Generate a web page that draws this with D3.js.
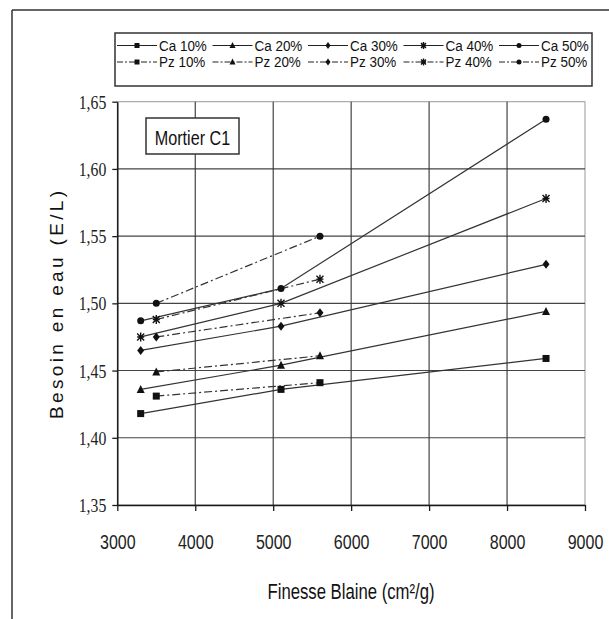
<!DOCTYPE html>
<html>
<head>
<meta charset="utf-8">
<script src="https://cdn.jsdelivr.net/npm/d3@7"></script>
<style>
  html, body { margin: 0; padding: 0; background: #fff; }
  svg { display: block; }
</style>
</head>
<body>
<svg id="chart" width="609" height="619"></svg>
<script>
// ---------- DATA ----------
const caX = [3300, 5100, 8500];
const pzX = [3500, 5600];
const seriesNames = ["10%", "20%", "30%", "40%", "50%"];
const markers = ["square", "triangle", "diamond", "star", "circle"];
const ca10 = [1.418, 1.436, 1.459];
const ca20 = [1.436, 1.454, 1.494];
const ca30 = [1.465, 1.483, 1.529];
const ca40 = [1.475, 1.500, 1.578];
const ca50 = [1.487, 1.511, 1.637];
const pz10 = [1.431, 1.441];
const pz20 = [1.449, 1.461];
const pz30 = [1.475, 1.493];
const pz40 = [1.488, 1.518];
const pz50 = [1.500, 1.550];
const xTicks = [3000, 4000, 5000, 6000, 7000, 8000, 9000];
const yTicks = [1.35, 1.40, 1.45, 1.50, 1.55, 1.60, 1.65];
const xTitle = "Finesse Blaine (cm²/g)";
const yTitle = "Besoin en eau (E/L)";
const annotation = "Mortier C1";

const caSeries = [ca10, ca20, ca30, ca40, ca50].map((v, i) => ({
  name: "Ca " + seriesNames[i], marker: markers[i], dashed: false,
  pts: caX.map((x, j) => [x, v[j]])
}));
const pzSeries = [pz10, pz20, pz30, pz40, pz50].map((v, i) => ({
  name: "Pz " + seriesNames[i], marker: markers[i], dashed: true,
  pts: pzX.map((x, j) => [x, v[j]])
}));

// ---------- LAYOUT ----------
const svg = d3.select("#chart");
const L = 117.3, R = 585, T = 101.7, B = 505;
const x = d3.scaleLinear().domain([3000, 9000]).range([L, R]);
const y = d3.scaleLinear().domain([1.35, 1.65]).range([B, T]);
const ink = "#1a1a1a";
const txt = "#111";
const DASH = "8,3,2,3";
const SANS = "'Liberation Sans', Arial, sans-serif";

// outer frame (top + left only visible)
svg.append("line").attr("x1", 12).attr("y1", 10).attr("x2", 609).attr("y2", 10)
  .attr("stroke", "#333").attr("stroke-width", 1.5);
svg.append("line").attr("x1", 12).attr("y1", 10).attr("x2", 12).attr("y2", 619)
  .attr("stroke", "#333").attr("stroke-width", 1.5);

// plot border (top/right light)
svg.append("rect").attr("x", L).attr("y", T).attr("width", R - L).attr("height", B - T)
  .attr("fill", "none").attr("stroke", "#999").attr("stroke-width", 1);

// gridlines
const grid = svg.append("g");
grid.selectAll(".gy").data(yTicks.slice(1, -1)).join("line")
  .attr("x1", L).attr("x2", R).attr("y1", d => y(d)).attr("y2", d => y(d))
  .attr("stroke", "#444").attr("stroke-width", 1.1);
grid.selectAll(".gx").data(xTicks.slice(1, -1)).join("line")
  .attr("y1", T).attr("y2", B).attr("x1", d => x(d)).attr("x2", d => x(d))
  .attr("stroke", "#333").attr("stroke-width", 1.1);

// axes
const yAxis = svg.append("g").attr("transform", `translate(${L},0)`)
  .call(d3.axisLeft(y).tickValues(yTicks).tickSize(5).tickSizeOuter(0)
    .tickFormat(d => d3.format(".2f")(d).replace(".", ",")));
const xAxis = svg.append("g").attr("transform", `translate(0,${B})`)
  .call(d3.axisBottom(x).tickValues(xTicks).tickSize(6).tickSizeOuter(0).tickFormat(d3.format("d")));
[yAxis, xAxis].forEach(a => {
  a.select(".domain").attr("stroke", ink).attr("stroke-width", 1.5);
  a.selectAll(".tick line").attr("stroke", ink).attr("stroke-width", 1.3);
});
yAxis.selectAll(".tick text")
  .attr("x", null).attr("dy", null)
  .attr("transform", "translate(-11,6.5) scale(0.83,1)")
  .attr("text-anchor", "end")
  .style("font-family", "'Liberation Serif', 'Times New Roman', serif")
  .style("font-size", "19px").attr("fill", "#222");
xAxis.selectAll(".tick text")
  .attr("y", null).attr("dy", null)
  .attr("transform", "translate(0,44) scale(0.8,1)")
  .style("font-family", SANS)
  .style("font-size", "20px").attr("fill", "#222");

// marker drawing
function drawMarker(g, type, cx, cy, s) {
  const h = s / 2;
  if (type === "square") {
    g.append("rect").attr("x", cx - h).attr("y", cy - h).attr("width", s).attr("height", s).attr("fill", "#111");
  } else if (type === "triangle") {
    g.append("path").attr("d", `M${cx},${cy - h - 1}L${cx + h + 0.5},${cy + h}L${cx - h - 0.5},${cy + h}Z`).attr("fill", "#111");
  } else if (type === "diamond") {
    g.append("path").attr("d", `M${cx},${cy - h - 1}L${cx + h},${cy}L${cx},${cy + h + 1}L${cx - h},${cy}Z`).attr("fill", "#111");
  } else if (type === "circle") {
    g.append("circle").attr("cx", cx).attr("cy", cy).attr("r", h).attr("fill", "#111");
  } else if (type === "star") {
    g.append("path").attr("d",
      `M${cx},${cy - h - 1}V${cy + h + 1}M${cx - h},${cy - h}L${cx + h},${cy + h}M${cx + h},${cy - h}L${cx - h},${cy + h}M${cx - h},${cy}H${cx + h}`)
      .attr("stroke", "#111").attr("stroke-width", 1.4).attr("fill", "none");
  }
}

// series
const line = d3.line().x(d => x(d[0])).y(d => y(d[1]));
const plot = svg.append("g");
[...pzSeries, ...caSeries].forEach(s => {
  plot.append("path").attr("d", line(s.pts)).attr("fill", "none")
    .attr("stroke", "#333").attr("stroke-width", 1.2)
    .attr("stroke-dasharray", s.dashed ? DASH : null);
});
[...pzSeries, ...caSeries].forEach(s => {
  const g = plot.append("g");
  s.pts.forEach(p => drawMarker(g, s.marker, x(p[0]), y(p[1]), 7));
});

// annotation box
svg.append("rect").attr("x", 146).attr("y", 118).attr("width", 93).attr("height", 36)
  .attr("fill", "#fff").attr("stroke", "#333").attr("stroke-width", 1.5);
svg.append("text").attr("transform", "translate(192.5,144.5) scale(0.77,1)")
  .attr("text-anchor", "middle")
  .style("font-family", SANS).style("font-size", "21px")
  .attr("fill", txt).text(annotation);

// legend
svg.append("rect").attr("x", 115).attr("y", 33).attr("width", 477).attr("height", 53)
  .attr("fill", "#fff").attr("stroke", "#333").attr("stroke-width", 1.5);
const legRows = [caSeries, pzSeries];
const legY = [45.5, 62];
legRows.forEach((row, r) => {
  row.forEach((s, i) => {
    const x0 = 117 + 95.5 * i;
    const g = svg.append("g");
    g.append("line").attr("x1", x0).attr("x2", x0 + 40).attr("y1", legY[r]).attr("y2", legY[r])
      .attr("stroke", "#222").attr("stroke-width", 1.2)
      .attr("stroke-dasharray", s.dashed ? "6,2,2,2" : null);
    drawMarker(g, s.marker, x0 + 20, legY[r], 5);
    g.append("text").attr("transform", `translate(${x0 + 42},${legY[r] + 5}) scale(0.96,1)`)
      .style("font-family", SANS).style("font-size", "14px")
      .attr("fill", txt).text(s.name);
  });
});

// axis titles
svg.append("text").attr("transform", "translate(351,599) scale(0.76,1)")
  .attr("text-anchor", "middle")
  .style("font-family", SANS).style("font-size", "22px")
  .attr("fill", txt).text(xTitle);
svg.append("text").attr("transform", "translate(63,305) rotate(-90)")
  .attr("text-anchor", "middle")
  .attr("textLength", 228).attr("lengthAdjust", "spacing")
  .style("font-family", SANS).style("font-size", "19px")
  .attr("fill", txt).text(yTitle);
</script>
</body>
</html>
